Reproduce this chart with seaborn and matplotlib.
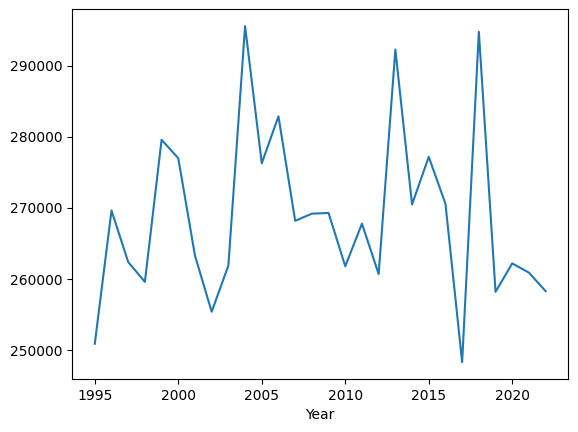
import matplotlib
matplotlib.use("Agg")
import matplotlib.pyplot as plt
import seaborn as sns
import pandas as pd

years = list(range(1995, 2023))
values = [250900, 269650, 262400, 259600, 279600, 277000, 263300, 255400,
          261900, 295600, 276300, 282900, 268200, 269200, 269300, 261800,
          267800, 260700, 292300, 270500, 277200, 270600, 248300, 294800,
          258200, 262200, 260900, 258300]

df = pd.DataFrame({"Year": years, "Value": values})

fig, ax = plt.subplots(figsize=(5.78, 4.32), dpi=100)
sns.lineplot(data=df, x="Year", y="Value", ax=ax)
ax.set_ylabel("")
fig.subplots_adjust(left=0.125, right=0.983, top=0.9785, bottom=0.1227)
fig.savefig("out.png", dpi=100)
